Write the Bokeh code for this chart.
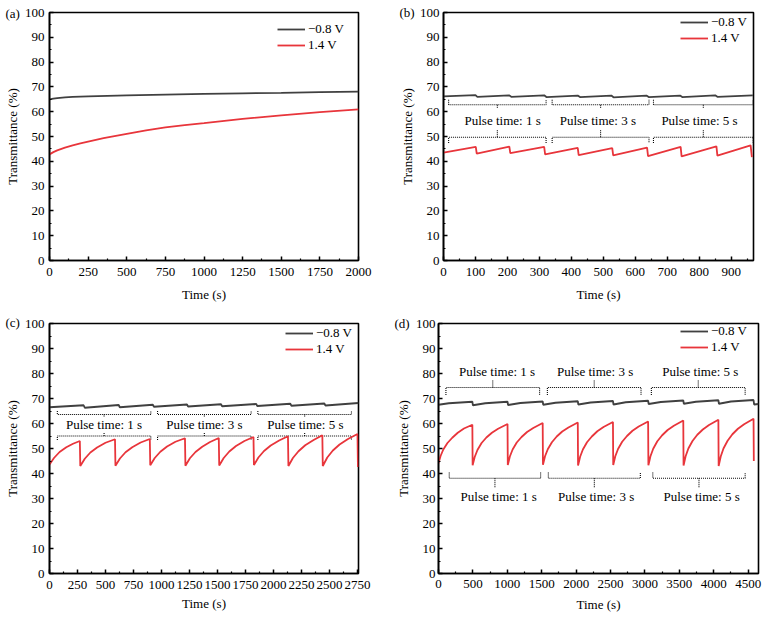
from bokeh.plotting import figure
from bokeh.models import Range1d, FixedTicker, Legend, LegendItem, Title
from bokeh.layouts import column, row
from bokeh.embed import file_html
from bokeh.resources import INLINE
from bokeh.core.properties import value

# ---------------- data ----------------
y_ticks = [0, 10, 20, 30, 40, 50, 60, 70, 80, 90, 100]
y_minor = [5, 15, 25, 35, 45, 55, 65, 75, 85, 95]

legend_labels = ["\u22120.8 V", "1.4 V"]
pulse_labels = ["Pulse time: 1 s", "Pulse time: 3 s", "Pulse time: 5 s"]
panel_labels = ["(a)", "(b)", "(c)", "(d)"]

# (a) continuous
a_xticks = [0, 250, 500, 750, 1000, 1250, 1500, 1750, 2000]
a_xminor = [125, 375, 625, 875, 1125, 1375, 1625, 1875]
a_blk_t = [0, 25, 50, 100, 150, 250, 500, 750, 1000, 1250, 1500, 1750, 2000]
a_blk_v = [65.0, 65.3, 65.5, 65.8, 66.0, 66.2, 66.6, 66.9, 67.2, 67.4, 67.6, 67.9, 68.1]
a_red_t = [0, 25, 50, 100, 150, 200, 250, 350, 500, 625, 750, 875, 1000, 1250, 1500, 1750, 2000]
a_red_v = [42.8, 43.7, 44.4, 45.5, 46.4, 47.2, 47.9, 49.3, 51.1, 52.5, 53.7, 54.6, 55.4, 57.1, 58.5, 59.8, 60.9]

# (b) short pulses
b_xticks = [0, 100, 200, 300, 400, 500, 600, 700, 800, 900]
b_xminor = [50, 150, 250, 350, 450, 550, 650, 750, 850, 950]
b_blk_t = [0, 100, 106, 205, 212, 315, 322, 420, 427, 525, 532, 635, 642, 740, 747, 850, 857, 968]
b_blk_v = [66.2, 66.7, 66.0, 66.6, 66.0, 66.6, 65.9, 66.5, 65.9, 66.5, 65.8, 66.5, 65.9, 66.5, 65.9, 66.6, 66.0, 66.6]
b_red_t = [0, 101, 104, 206, 209, 315, 318, 420, 423, 528, 531, 637, 640, 742, 745, 854, 857, 961, 965]
b_red_v = [43.5, 45.8, 43.1, 45.9, 43.3, 45.8, 42.8, 45.4, 42.5, 45.3, 42.4, 45.5, 42.1, 45.8, 42.0, 46.0, 42.3, 46.4, 41.7]
b_up_x0 = [16, 340, 657]
b_up_x1 = [321, 643, 969]
b_up_level, b_up_end, b_up_mid = 62.8, 64.8, 61.4
b_lo_x0 = [16, 340, 657]
b_lo_x1 = [321, 643, 969]
b_lo_level, b_lo_end, b_lo_mid = 49.7, 47.4, 52.5
b_txt_x = [185, 483, 801]
b_txt_y = [56.5, 56.5, 56.5]

# (c) medium pulses
c_xticks = [0, 250, 500, 750, 1000, 1250, 1500, 1750, 2000, 2250, 2500, 2750]
c_xminor = [125, 375, 625, 875, 1125, 1375, 1625, 1875, 2125, 2375, 2625]
c_blk_t = [0, 305, 315, 618, 628, 923, 933, 1228, 1238, 1532, 1542, 1846, 1856, 2151, 2161, 2455, 2465, 2760]
c_blk_v = [66.5, 67.3, 66.3, 67.4, 66.5, 67.5, 66.7, 67.6, 66.8, 67.7, 66.9, 67.8, 67.0, 67.9, 67.1, 68.0, 67.2, 68.2]
c_red_t = [0, 40, 90, 150, 210, 271,
           275, 315, 365, 425, 500, 585,
           589, 629, 679, 739, 814, 896,
           900, 940, 990, 1050, 1125, 1210,
           1214, 1254, 1304, 1364, 1434, 1512,
           1516, 1556, 1606, 1666, 1741, 1822,
           1826, 1866, 1916, 1976, 2051, 2130,
           2134, 2174, 2224, 2284, 2359, 2437,
           2441, 2481, 2531, 2591, 2666, 2751, 2755]
c_red_v = [43.6, 46.2, 48.6, 50.5, 51.9, 53.0,
           43.0, 45.9, 48.4, 50.4, 52.3, 53.7,
           43.1, 46.0, 48.5, 50.5, 52.4, 53.8,
           43.3, 46.2, 48.7, 50.8, 52.7, 54.1,
           43.1, 46.1, 48.6, 50.7, 52.6, 54.2,
           43.2, 46.2, 48.8, 51.0, 53.0, 54.6,
           43.4, 46.4, 49.0, 51.2, 53.2, 54.9,
           43.0, 46.2, 48.9, 51.3, 53.4, 55.3,
           43.0, 46.4, 49.2, 51.6, 53.8, 55.8, 42.6]
c_up_x0 = [70, 965, 1861]
c_up_x1 = [905, 1801, 2697]
c_up_level, c_up_end, c_up_mid = 63.6, 65.0, 62.6
c_lo_x0 = [70, 965, 1861]
c_lo_x1 = [905, 1801, 2697]
c_lo_level, c_lo_end, c_lo_mid = 55.0, 53.4, 56.2
c_txt_x = [487, 1383, 2286]
c_txt_y = [59.5, 59.5, 59.5]

# (d) long pulses
d_xticks = [0, 500, 1000, 1500, 2000, 2500, 3000, 3500, 4000, 4500]
d_xminor = [250, 750, 1250, 1750, 2250, 2750, 3250, 3750, 4250]
d_blk_t = [0, 150, 492, 500, 680, 1003, 1011, 1190, 1514, 1522, 1700, 2024, 2032, 2210,
           2535, 2543, 2720, 3046, 3054, 3230, 3557, 3565, 3740, 4067, 4075, 4250, 4578, 4586, 4650]
d_blk_v = [67.5, 68.1, 68.7, 67.3, 68.1, 68.7, 67.4, 68.2, 68.8, 67.5, 68.3, 68.9, 67.6, 68.4,
           69.0, 67.6, 68.5, 69.1, 67.8, 68.6, 69.2, 67.9, 68.7, 69.3, 67.9, 68.8, 69.4, 67.6, 67.8]
d_red_t = [0, 30, 70, 130, 200, 280, 370, 492,
           496, 526, 566, 626, 696, 776, 866, 1003,
           1007, 1037, 1077, 1137, 1207, 1287, 1377, 1514,
           1518, 1548, 1588, 1648, 1718, 1798, 1888, 2024,
           2028, 2058, 2098, 2158, 2228, 2308, 2398, 2535,
           2539, 2569, 2609, 2669, 2739, 2819, 2909, 3046,
           3050, 3080, 3120, 3180, 3250, 3330, 3420, 3557,
           3561, 3591, 3631, 3691, 3761, 3841, 3931, 4067,
           4071, 4101, 4141, 4201, 4271, 4351, 4441, 4578, 4582]
d_red_v = [44.1, 47.0, 49.6, 52.2, 54.3, 56.3, 58.0, 59.5,
           43.3, 46.6, 49.4, 52.2, 54.4, 56.3, 57.9, 59.8,
           43.4, 46.8, 49.6, 52.4, 54.6, 56.6, 58.2, 60.2,
           43.5, 46.9, 49.7, 52.5, 54.8, 56.8, 58.4, 60.4,
           43.2, 46.7, 49.6, 52.5, 54.8, 56.9, 58.6, 60.6,
           43.4, 46.9, 49.8, 52.7, 55.0, 57.1, 58.8, 60.8,
           43.3, 46.9, 49.9, 52.9, 55.3, 57.4, 59.1, 61.2,
           43.2, 46.9, 50.0, 53.0, 55.5, 57.6, 59.4, 61.5,
           43.0, 46.8, 50.0, 53.1, 55.7, 57.9, 59.7, 61.9, 45.0]
d_up_x0 = [108, 1582, 3093]
d_up_x1 = [1469, 2943, 4456]
d_up_level, d_up_end, d_up_mid = 74.4, 71.4, 77.3
d_lo_x0 = [156, 1596, 3114]
d_lo_x1 = [1484, 2933, 4456]
d_lo_level, d_lo_end, d_lo_mid = 38.1, 40.4, 34.5
d_up_txt_x = [850, 2276, 3804]
d_up_txt_y = [81.0, 81.0, 81.0]
d_lo_txt_x = [875, 2290, 3823]
d_lo_txt_y = [30.9, 30.9, 30.9]

# ---------------- style ----------------
FONT = "'Liberation Serif', serif"
FS = "13px"
BLACK = "#404040"
RED = "#e8353b"


def make_fig(w, h, xmax, xticks, xminor, borders, ylab_std, xlab_std, xaxis_std, yaxis_std):
    left, right, top, bottom = borders
    p = figure(width=w, height=h, x_range=Range1d(0, xmax), y_range=Range1d(0, 100),
               output_backend="svg", toolbar_location=None,
               min_border_left=left, min_border_right=right,
               min_border_top=top, min_border_bottom=bottom)
    p.grid.visible = False
    p.outline_line_color = "black"
    p.outline_line_width = 1.6
    p.outline_line_alpha = 1.0
    p.xaxis.ticker = FixedTicker(ticks=xticks, minor_ticks=xminor)
    p.yaxis.ticker = FixedTicker(ticks=y_ticks, minor_ticks=y_minor)
    p.xaxis.axis_label = "Time (s)"
    p.yaxis.axis_label = "Transmittance (%)"
    p.yaxis.major_label_standoff = ylab_std
    p.xaxis.major_label_standoff = xlab_std
    p.xaxis.axis_label_standoff = xaxis_std
    p.yaxis.axis_label_standoff = yaxis_std
    for ax in (p.xaxis[0], p.yaxis[0]):
        ax.axis_line_color = "black"
        ax.axis_line_width = 1.6
        ax.major_tick_in = 4
        ax.major_tick_out = 0
        ax.minor_tick_in = 2
        ax.minor_tick_out = 0
        ax.major_tick_line_color = "black"
        ax.minor_tick_line_color = "black"
        ax.major_tick_line_width = 1.5
        ax.minor_tick_line_width = 1.2
        ax.major_label_text_font = FONT
        ax.major_label_text_font_size = FS
        ax.major_label_text_color = "black"
        ax.axis_label_text_font = FONT
        ax.axis_label_text_font_size = FS
        ax.axis_label_text_font_style = "normal"
        ax.axis_label_text_color = "black"
    return p


def add_curves(p, bt, bv, rt, rv, loc):
    rb = p.line(bt, bv, line_color=BLACK, line_width=1.8)
    rr = p.line(rt, rv, line_color=RED, line_width=1.8)
    lg = Legend(items=[LegendItem(label=legend_labels[0], renderers=[rb]),
                       LegendItem(label=legend_labels[1], renderers=[rr])],
                location=loc, glyph_width=28, glyph_height=16, label_height=16,
                label_standoff=3, spacing=0, padding=0, margin=0,
                border_line_color=None, background_fill_alpha=0,
                label_text_font=FONT, label_text_font_size=FS, label_text_color="black")
    p.add_layout(lg)


def add_brackets(p, x0s, x1s, level, end, mid):
    xs, ys, xc = [], [], []
    for a, b in zip(x0s, x1s):
        xs.append([a, a, b, b])
        ys.append([end, level, level, end])
        xc.append((a + b) / 2)
    p.multi_line(xs, ys, line_color="black", line_width=1.1, line_dash="1 1")
    p.segment(x0=xc, y0=[level] * len(xc), x1=xc, y1=[mid] * len(xc),
              line_color="black", line_width=1.1, line_dash="1 1")


def add_texts(p, xs, ys):
    p.text(x=xs, y=ys, text=pulse_labels, text_font=value(FONT), text_font_size=FS,
           text_align="center", text_baseline="middle", text_color="black")


def add_panel_title(p, txt, offset, standoff):
    # panel letter drawn as a left-aligned title, pulled down beside the frame's top edge
    p.add_layout(Title(text=txt, align="left", offset=offset, standoff=standoff,
                       text_font=FONT, text_font_size=FS, text_font_style="normal",
                       text_color="black"), "above")


WL, WR, HT, HB = 372, 392, 309, 309

pa = make_fig(WL, HT, 2000, a_xticks, a_xminor, (49, 14, 12, 49), 5, 7, 8, 2)
add_curves(pa, a_blk_t, a_blk_v, a_red_t, a_red_v, (228, 207))
add_panel_title(pa, panel_labels[0], -44, -17)

pb = make_fig(WR, HT, 970, b_xticks, b_xminor, (71, 11, 12, 47), 4, 7, 8, 2)
add_brackets(pb, b_up_x0, b_up_x1, b_up_level, b_up_end, b_up_mid)
add_brackets(pb, b_lo_x0, b_lo_x1, b_lo_level, b_lo_end, b_lo_mid)
add_texts(pb, b_txt_x, b_txt_y)
add_curves(pb, b_blk_t, b_blk_v, b_red_t, b_red_v, (237, 214))
add_panel_title(pb, panel_labels[1], -44, -15)

pc = make_fig(WL, HB, 2760, c_xticks, c_xminor, (49, 14, 14, 45), 5, 7, 4, 2)
add_brackets(pc, c_up_x0, c_up_x1, c_up_level, c_up_end, c_up_mid)
add_brackets(pc, c_lo_x0, c_lo_x1, c_lo_level, c_lo_end, c_lo_mid)
add_texts(pc, c_txt_x, c_txt_y)
add_curves(pc, c_blk_t, c_blk_v, c_red_t, c_red_v, (236, 216))
add_panel_title(pc, panel_labels[2], -44, -13)

pd = make_fig(WR, HB, 4650, d_xticks, d_xminor, (66, 6, 12, 44), 3, 6, 6, 2)
add_brackets(pd, d_up_x0, d_up_x1, d_up_level, d_up_end, d_up_mid)
add_brackets(pd, d_lo_x0, d_lo_x1, d_lo_level, d_lo_end, d_lo_mid)
add_texts(pd, d_up_txt_x, d_up_txt_y)
add_texts(pd, d_lo_txt_x, d_lo_txt_y)
add_curves(pd, d_blk_t, d_blk_v, d_red_t, d_red_v, (242, 218))
add_panel_title(pd, panel_labels[3], -44, -15)

layout = column(row(pa, pb), row(pc, pd))
open("out.html", "w").write(file_html(layout, INLINE))
